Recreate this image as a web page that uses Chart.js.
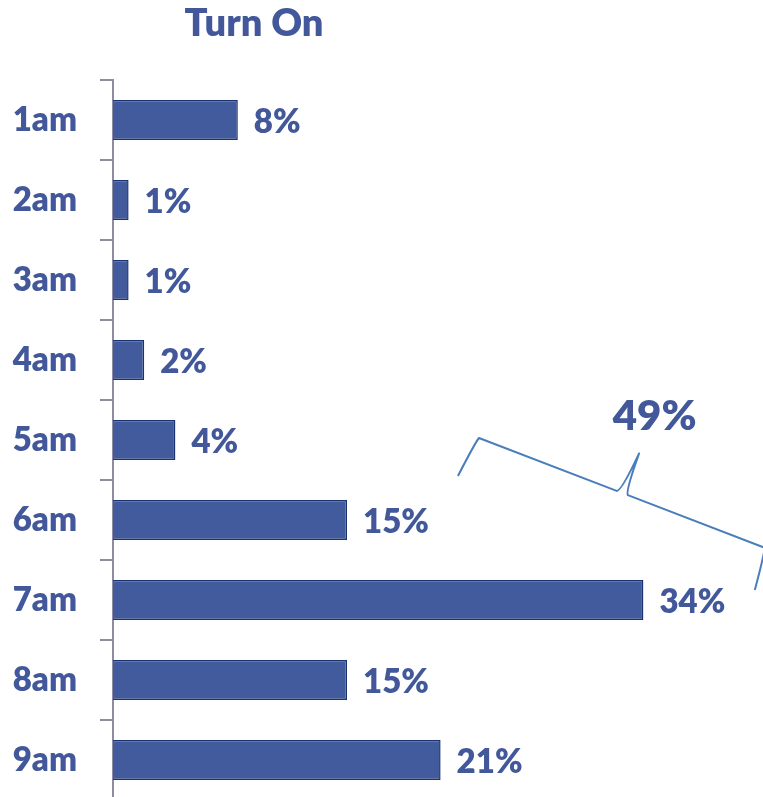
<!DOCTYPE html>
<html>
<head>
<meta charset="utf-8">
<script src="https://cdn.jsdelivr.net/npm/chart.js@4"></script>
<style>
  html, body { margin: 0; padding: 0; background: #fff; overflow: hidden; }
  canvas { display: block; }
</style>
</head>
<body>
<canvas id="chart" width="763" height="805"></canvas>
<script>
// data
const hours = ['1am', '2am', '3am', '4am', '5am', '6am', '7am', '8am', '9am'];
const turnOn = [8, 1, 1, 2, 4, 15, 34, 15, 21];
const valueLabels = ['8%', '1%', '1%', '2%', '4%', '15%', '34%', '15%', '21%'];
const titleText = 'Turn On';
const braceText = '49%';

const textColor = '#42589a';
const barFill = '#425b9c';
const barEdge = '#1b3270';
const axisGrey = '#8e8ca0';
const braceBlue = '#4a7ebb';
const fontFamily = 'Lato, "Open Sans", sans-serif';
const heavy = '800';

// title + value labels
const labelsPlugin = {
    id: 'labels',
    afterDatasetsDraw(chart) {
        const ctx = chart.ctx;
        const meta = chart.getDatasetMeta(0);
        ctx.save();
        ctx.fillStyle = textColor;
        ctx.font = heavy + ' 33px ' + fontFamily;
        ctx.textBaseline = 'middle';
        ctx.textAlign = 'left';
        meta.data.forEach((bar, i) => {
            ctx.fillText(valueLabels[i], bar.x + 16, bar.y + 2);
        });

        ctx.font = heavy + ' 38px ' + fontFamily;
        ctx.textAlign = 'center';
        ctx.fillText(titleText, chart.chartArea.left + 141, 24);
        ctx.restore();
    }
};

// curly brace over 6am + 7am
const bracePlugin = {
    id: 'brace',
    afterDraw(chart) {
        const ctx = chart.ctx;
        const xs = chart.scales.x;
        const ys = chart.scales.y;
        const ax = xs.getPixelForValue(23.46);
        const ay = ys.getPixelForValue(3.975);
        const len = 306;
        const ang = Math.atan2(53, 138);
        const mid = 154.5;

        ctx.save();
        ctx.translate(ax, ay);
        ctx.rotate(ang);
        ctx.strokeStyle = braceBlue;
        ctx.lineWidth = 2;
        ctx.lineJoin = 'round';
        ctx.beginPath();
        ctx.moveTo(-6, 43);
        ctx.bezierCurveTo(-4, 25, -2, 6, 0, 0);
        ctx.lineTo(mid - 7, 0);
        ctx.bezierCurveTo(mid - 3, -1, mid - 1, -22, mid + 0.5, -43);
        ctx.bezierCurveTo(mid + 1, -22, mid + 2, -2, mid + 5, 0);
        ctx.lineTo(len, 0);
        ctx.bezierCurveTo(len + 2, 6, len + 4, 25, len + 6, 43);
        ctx.stroke();
        ctx.restore();

        // tip position in page pixels
        const tx = ax + Math.cos(ang) * mid + Math.sin(ang) * 43;
        const ty = ay + Math.sin(ang) * mid - Math.cos(ang) * 43;
        ctx.save();
        ctx.fillStyle = textColor;
        ctx.font = heavy + ' 42px ' + fontFamily;
        ctx.textAlign = 'center';
        ctx.textBaseline = 'middle';
        ctx.fillText(braceText, tx + 16, ty - 37);
        ctx.restore();
    }
};

new Chart(document.getElementById('chart'), {
    type: 'bar',
    data: {
        labels: hours,
        datasets: [{
            data: turnOn,
            backgroundColor: barFill,
            borderColor: barEdge,
            borderWidth: 1.5,
            barPercentage: 0.5,
            categoryPercentage: 1
        }]
    },
    options: {
        indexAxis: 'y',
        responsive: false,
        animation: false,
        layout: { padding: { top: 80, right: 26, bottom: 5, left: 0 } },
        plugins: {
            legend: { display: false },
            tooltip: { enabled: false },
            title: { display: false }
        },
        scales: {
            x: {
                display: false,
                min: 0,
                max: 40
            },
            y: {
                afterFit(scale) {
                    scale.width = 113;
                    scale.paddingTop = 0;
                    scale.paddingBottom = 0;
                },
                border: { display: true, color: axisGrey, width: 2 },
                grid: {
                    drawOnChartArea: false,
                    drawTicks: true,
                    tickLength: 13,
                    color: axisGrey,
                    lineWidth: 2
                },
                ticks: {
                    padding: 23,
                    color: textColor,
                    font: { family: fontFamily, size: 33, weight: heavy }
                }
            }
        }
    },
    plugins: [labelsPlugin, bracePlugin]
});
</script>
</body>
</html>
